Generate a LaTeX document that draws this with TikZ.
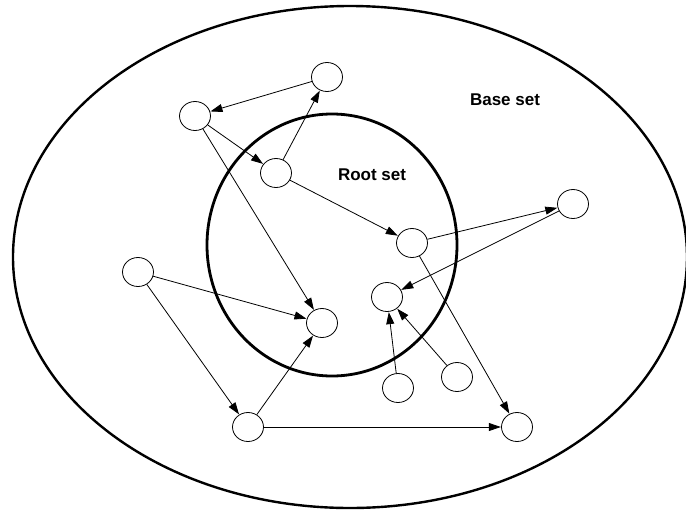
\documentclass[tikz,border=0pt]{standalone}
\usepackage{fontspec}
\setmainfont{Liberation Sans}
\usetikzlibrary{shapes.geometric,arrows.meta}
\begin{document}
\begin{tikzpicture}[x=1pt,y=-1pt,
  vtx/.style={draw,ellipse,minimum width=31pt,minimum height=29pt,inner sep=0pt,line width=0.8pt},
  link/.style={line width=0.8pt,-{Triangle[length=12pt,width=8pt]},shorten >=0.3pt},
  lbl/.style={font=\bfseries\fontsize{17}{19}\selectfont}]
\useasboundingbox (0,0) rectangle (686,512);
\clip (0,0) rectangle (686,512);
\fill[white] (0,0) rectangle (686,512);
\draw[line width=2.4pt] (350,257) ellipse [x radius=337, y radius=251];
\draw[line width=2.8pt] (332,245) ellipse [x radius=125, y radius=131];
\node[lbl] (base) at (505,100) {Base set};
\node[lbl] (root) at (372,175) {Root set};
\node[vtx] (n1) at (327,77) {};
\node[vtx] (n2) at (195,116) {};
\node[vtx] (n3) at (276,173) {};
\node[vtx] (n4) at (412,243) {};
\node[vtx] (n5) at (573,204) {};
\node[vtx] (n6) at (138,272) {};
\node[vtx] (n7) at (322,323) {};
\node[vtx] (n8) at (387,297) {};
\node[vtx] (n9) at (398,388) {};
\node[vtx] (n10) at (457,377) {};
\node[vtx] (n11) at (248,427) {};
\node[vtx] (n12) at (517,427) {};
\draw[link] (n1) -- (n2);
\draw[link] (n2) -- (n3);
\draw[link] (n3) -- (n1);
\draw[link] (n2) -- (n7);
\draw[link] (n3) -- (n4);
\draw[link] (n4) -- (n5);
\draw[link] (n5) -- (n8);
\draw[link] (n4) -- (n12);
\draw[link] (n6) -- (n7);
\draw[link] (n6) -- (n11);
\draw[link] (n11) -- (n7);
\draw[link] (n11) -- (n12);
\draw[link] (n9) -- (n8);
\draw[link] (n10) -- (n8);
\end{tikzpicture}
\end{document}
